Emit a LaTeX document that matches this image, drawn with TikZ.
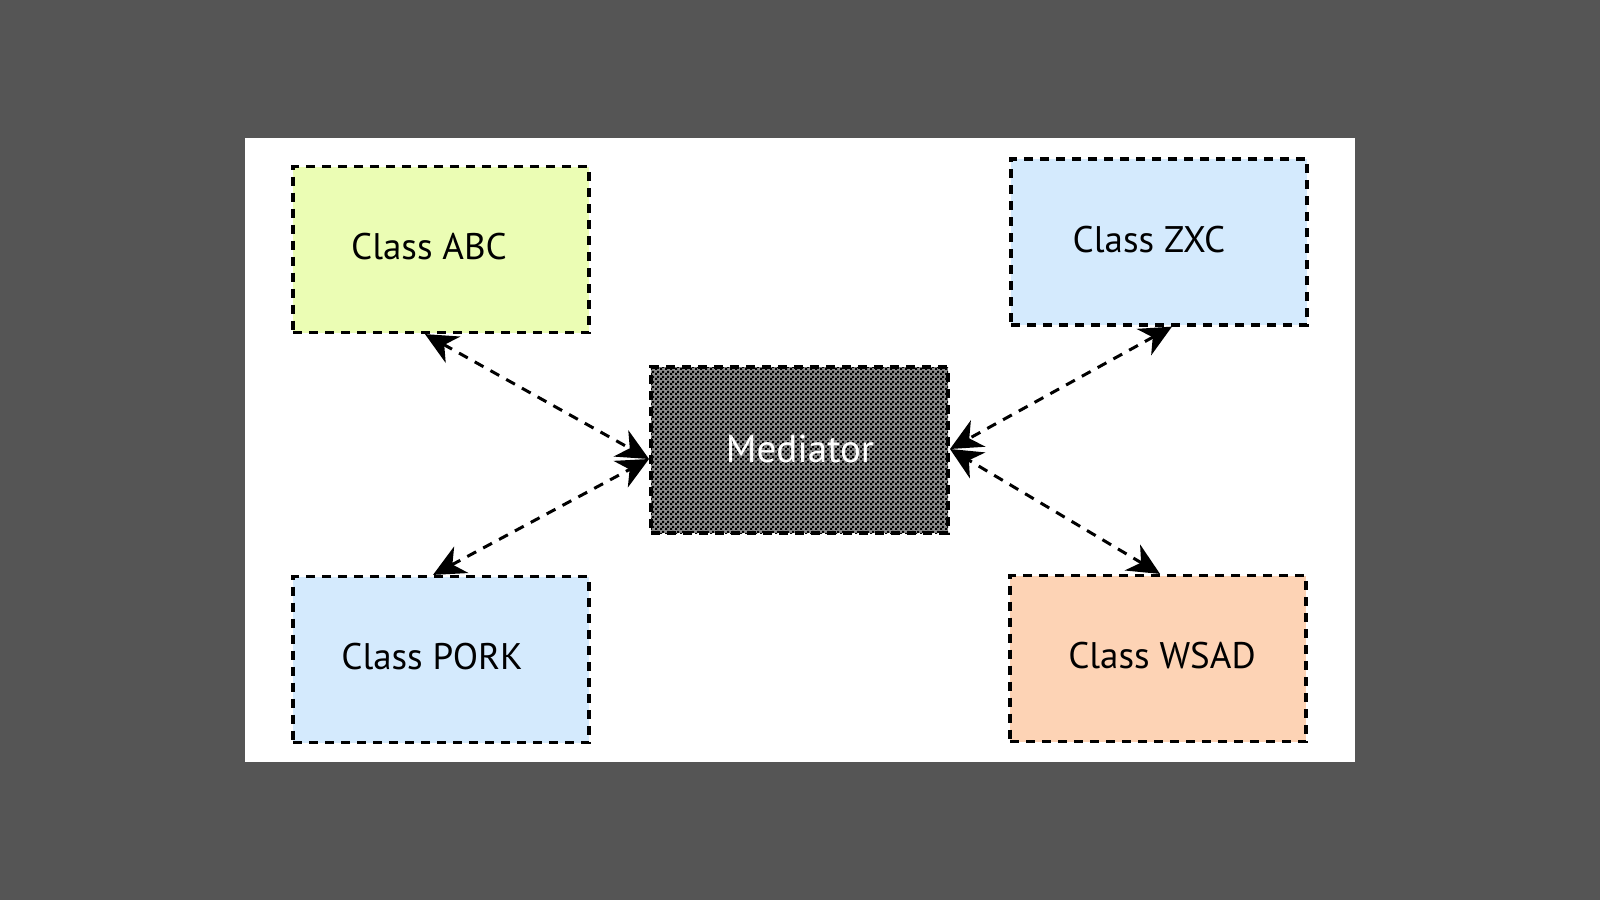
\documentclass[tikz,border=0pt]{standalone}
\usepackage{fontspec}
\setmainfont{PT Sans}
\usetikzlibrary{arrows.meta,patterns,calc}
\pgfdeclarepatternformonly{finechecker}{\pgfpointorigin}{\pgfqpoint{2.5pt}{2.5pt}}{\pgfqpoint{2.5pt}{2.5pt}}{%
  \pgfpathrectangle{\pgfpointorigin}{\pgfqpoint{1.25pt}{1.25pt}}%
  \pgfpathrectangle{\pgfqpoint{1.25pt}{1.25pt}}{\pgfqpoint{1.25pt}{1.25pt}}%
  \pgfusepath{fill}}
\definecolor{bggray}{HTML}{555555}
\definecolor{abcfill}{HTML}{EBFDB4}
\definecolor{bluefill}{HTML}{D4EAFD}
\definecolor{peachfill}{HTML}{FDD3B5}
\definecolor{medgray}{HTML}{8C8C8C}
\tikzset{
  box/.style={draw=black, line width=1.6pt, dash pattern=on 4.5pt off 3.5pt, inner sep=0pt, minimum width=148pt, minimum height=83pt},
  lbl/.style={font=\fontsize{18.5}{22}\selectfont, inner sep=0pt, anchor=center},
  link/.style={line width=1.5pt, dash pattern=on 5pt off 4pt, {Stealth[length=16pt,width=15pt,inset=5pt]}-{Stealth[length=16pt,width=15pt,inset=5pt]}},
}
\begin{document}
\begin{tikzpicture}[x=0.5pt,y=-0.5pt]
\fill[bggray] (0,0) rectangle (1600,900);
\useasboundingbox (0,0) rectangle (1600,900);
\fill[white] (245,138) rectangle (1355,762);
\node[box, fill=abcfill] (abc) at (441,249.5) {};
\node[box, fill=bluefill] (zxc) at (1159,242) {};
\node[box, fill=bluefill] (pork) at (441,659.5) {};
\node[box, fill=peachfill] (wsad) at (1158,658.5) {};
\node[box, fill=medgray, minimum width=148.5pt] (medbg) at (799.5,450) {};
\node[box, pattern=finechecker, pattern color=black, line width=2pt, minimum width=148.5pt] (med) at (799.5,450) {};
\node[lbl] (tabc) at (429,247) {Class ABC};
\node[lbl] (tzxc) at (1149,240) {Class ZXC};
\node[lbl] (tpork) at (432,657) {Class PORK};
\node[lbl] (twsad) at (1162,656) {Class WSAD};
\node[lbl, text=white, font=\fontsize{19.5}{23}\selectfont] (tmed) at (800,449) {Mediator};
\draw[link] ($(abc.south)+(-16,0)$) -- ($(med.west)+(0,9)$);
\draw[link] ($(pork.north)+(-8,0)$) -- ($(med.west)+(0,9)$);
\draw[link] ($(zxc.south)+(13,0)$) -- ($(med.east)+(0,-1)$);
\draw[link] ($(wsad.north)+(2,0)$) -- ($(med.east)+(0,-1)$);
\end{tikzpicture}
\end{document}
